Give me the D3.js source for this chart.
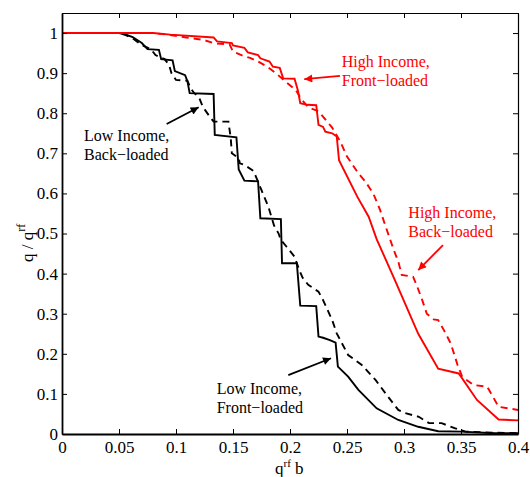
<!DOCTYPE html>
<html>
<head>
<meta charset="utf-8">
<script src="https://cdn.jsdelivr.net/npm/d3@7"></script>
<style>
  html, body { margin: 0; padding: 0; background: #fff; }
  svg { display: block; }
  text { font-family: "Liberation Serif", "Times New Roman", serif; }
</style>
</head>
<body>
<svg id="chart" width="530" height="477"></svg>
<script>
// ---------------- data ----------------
const xTicks = [0, 0.05, 0.1, 0.15, 0.2, 0.25, 0.3, 0.35, 0.4];
const xTickLabels = ["0", "0.05", "0.1", "0.15", "0.2", "0.25", "0.3", "0.35", "0.4"];
const yTicks = [0, 0.1, 0.2, 0.3, 0.4, 0.5, 0.6, 0.7, 0.8, 0.9, 1];
const yTickLabels = ["0", "0.1", "0.2", "0.3", "0.4", "0.5", "0.6", "0.7", "0.8", "0.9", "1"];

// Low Income, Front-loaded (black solid)
const lowFront = [
  [0, 1], [0.05, 1], [0.055, 0.997], [0.062, 0.99], [0.07, 0.975], [0.075, 0.96],
  [0.085, 0.958], [0.087, 0.935], [0.097, 0.932], [0.099, 0.905], [0.108, 0.895],
  [0.11, 0.88], [0.112, 0.85], [0.133, 0.848], [0.134, 0.746], [0.153, 0.74],
  [0.155, 0.66], [0.16, 0.632], [0.172, 0.63], [0.174, 0.538], [0.192, 0.536],
  [0.193, 0.426], [0.206, 0.426], [0.209, 0.32], [0.223, 0.319], [0.225, 0.243],
  [0.229, 0.24], [0.235, 0.234], [0.24, 0.228], [0.242, 0.168], [0.251, 0.143],
  [0.26, 0.11], [0.276, 0.064], [0.295, 0.035], [0.3125, 0.018], [0.33, 0.007],
  [0.35, 0.006], [0.38, 0.002], [0.4, 0.002]
];

// Low Income, Back-loaded (black dashed)
const lowBack = [
  [0, 1], [0.05, 1], [0.056, 0.995], [0.062, 0.987], [0.07, 0.97], [0.078, 0.96],
  [0.082, 0.945], [0.09, 0.935], [0.094, 0.92], [0.096, 0.9], [0.1, 0.883],
  [0.11, 0.881], [0.113, 0.862], [0.116, 0.85], [0.12, 0.841], [0.123, 0.82],
  [0.125, 0.81], [0.13, 0.79], [0.133, 0.779], [0.146, 0.779], [0.148, 0.738],
  [0.149, 0.7], [0.155, 0.688], [0.156, 0.675], [0.16, 0.671], [0.168, 0.656],
  [0.175, 0.608], [0.181, 0.567], [0.186, 0.52], [0.19, 0.5], [0.192, 0.484],
  [0.197, 0.467], [0.204, 0.442], [0.208, 0.41], [0.211, 0.39], [0.216, 0.372],
  [0.225, 0.355], [0.229, 0.334], [0.237, 0.284], [0.241, 0.251], [0.251, 0.197],
  [0.263, 0.172], [0.275, 0.135], [0.286, 0.093], [0.295, 0.06], [0.301, 0.052],
  [0.313, 0.043], [0.322, 0.027], [0.333, 0.027], [0.345, 0.014], [0.354, 0.006],
  [0.382, 0.003], [0.4, 0.002]
];

// High Income, Front-loaded (red solid)
const highFront = [
  [0, 1], [0.08, 1], [0.095, 0.996], [0.133, 0.989], [0.136, 0.979], [0.149, 0.975],
  [0.15, 0.969], [0.16, 0.963], [0.163, 0.952], [0.172, 0.945], [0.174, 0.937],
  [0.182, 0.929], [0.185, 0.916], [0.191, 0.913], [0.194, 0.887], [0.204, 0.886],
  [0.207, 0.856], [0.209, 0.825], [0.215, 0.821], [0.223, 0.82], [0.225, 0.771],
  [0.229, 0.766], [0.231, 0.754], [0.237, 0.75], [0.241, 0.742], [0.243, 0.683],
  [0.259, 0.592], [0.269, 0.542], [0.276, 0.486], [0.292, 0.384], [0.3125, 0.25],
  [0.33, 0.163], [0.348, 0.151], [0.364, 0.085], [0.383, 0.036], [0.4, 0.034]
];

// High Income, Back-loaded (red dashed)
const highBack = [
  [0, 1], [0.08, 1], [0.095, 0.995], [0.109, 0.989], [0.124, 0.983], [0.134, 0.974],
  [0.147, 0.972], [0.15, 0.954], [0.16, 0.942], [0.165, 0.938], [0.172, 0.929],
  [0.18, 0.916], [0.188, 0.899], [0.196, 0.879], [0.205, 0.858], [0.21, 0.835],
  [0.216, 0.815], [0.225, 0.805], [0.237, 0.764], [0.244, 0.73], [0.25, 0.692],
  [0.26, 0.65], [0.266, 0.63], [0.273, 0.6], [0.279, 0.559], [0.283, 0.525],
  [0.288, 0.484], [0.291, 0.459], [0.295, 0.43], [0.298, 0.397], [0.308, 0.392],
  [0.311, 0.372], [0.316, 0.334], [0.32, 0.3], [0.326, 0.286], [0.33, 0.284],
  [0.335, 0.259], [0.341, 0.226], [0.347, 0.172], [0.351, 0.143], [0.361, 0.122],
  [0.373, 0.118], [0.383, 0.068], [0.4, 0.06]
];

// annotation text (two lines each) and anchors in data units
const annoLines = [
  ["Low Income,", "Back\u2212loaded"],
  ["Low Income,", "Front\u2212loaded"],
  ["High Income,", "Front\u2212loaded"],
  ["High Income,", "Back\u2212loaded"]
];
const annoTextPos = [[0.0193, 0.731], [0.1357, 0.0998], [0.2454, 0.916], [0.3038, 0.538]];
const annoArrowFrom = [[0.0918, 0.773], [0.1985, 0.147], [0.2439, 0.893], [0.3342, 0.471]];
const annoArrowTo = [[0.1199, 0.815], [0.236, 0.189], [0.2125, 0.885], [0.3125, 0.409]];
const annoColors = ["#000", "#000", "#ff0000", "#ff0000"];

// ---------------- layout ----------------
const mLeft = 62, mRight = 518, mTop = 13, mBottom = 434;
const svg = d3.select("#chart");
const x = d3.scaleLinear().domain([0, 0.4]).range([mLeft, mRight]);
const y = d3.scaleLinear().domain([0, 1.05]).range([mBottom, mTop]);
const font = "'Liberation Serif', 'Times New Roman', serif";

// lines
const line = d3.line().x(d => x(d[0])).y(d => y(d[1]));
const series = [
  { data: lowFront, color: "#000", dash: null },
  { data: lowBack, color: "#000", dash: "7,5" },
  { data: highFront, color: "#ff0000", dash: null },
  { data: highBack, color: "#ff0000", dash: "7,5" }
];
svg.append("g").selectAll("path").data(series).join("path")
  .attr("d", d => line(d.data))
  .attr("fill", "none")
  .attr("stroke", d => d.color)
  .attr("stroke-width", 1.9)
  .attr("stroke-dasharray", d => d.dash)
  .attr("stroke-linejoin", "miter");

// axes (ticks inward, box)
const fmtX = (d, i) => xTickLabels[i];
const fmtY = (d, i) => yTickLabels[i];
const gB = svg.append("g").attr("transform", `translate(0,${mBottom})`)
  .call(d3.axisBottom(x).tickValues(xTicks).tickFormat(fmtX).tickSizeInner(-5).tickSizeOuter(0).tickPadding(7));
const gL = svg.append("g").attr("transform", `translate(${mLeft},0)`)
  .call(d3.axisLeft(y).tickValues(yTicks).tickFormat(fmtY).tickSizeInner(-5).tickSizeOuter(0).tickPadding(4));
const gT = svg.append("g").attr("transform", `translate(0,${mTop})`)
  .call(d3.axisTop(x).tickValues(xTicks).tickFormat("").tickSizeInner(-5).tickSizeOuter(0));
const gR = svg.append("g").attr("transform", `translate(${mRight},0)`)
  .call(d3.axisRight(y).tickValues(yTicks).tickFormat("").tickSizeInner(-5).tickSizeOuter(0));

[gB, gL, gT, gR].forEach(g => {
  g.selectAll("text").attr("font-family", font).attr("font-size", 17).attr("fill", "#000");
  g.selectAll("line").attr("stroke", "#000").attr("stroke-width", 1);
  g.select(".domain").attr("stroke", "#000");
});
gB.select(".domain").attr("stroke-width", 1.8);
gL.select(".domain").attr("stroke-width", 1.8);
gT.select(".domain").attr("stroke-width", 1.2);
gR.select(".domain").attr("stroke-width", 1.2);

// axis labels
const xl = svg.append("text")
  .attr("x", 275).attr("y", 474)
  .attr("font-family", font).attr("font-size", 17).attr("fill", "#000");
xl.append("tspan").text("q");
xl.append("tspan").attr("font-size", 11).attr("dy", -7).text("rf");
xl.append("tspan").attr("dy", 7).text(" b");

const yl = svg.append("text")
  .attr("transform", "translate(33,262) rotate(-90)")
  .attr("font-family", font).attr("font-size", 17).attr("fill", "#000");
yl.append("tspan").text("q / q");
yl.append("tspan").attr("font-size", 12).attr("dy", -8).text("rf");

// annotations
const defs = svg.append("defs");
annoColors.forEach((c, i) => {
  defs.append("marker").attr("id", "ah" + i)
    .attr("viewBox", "0 0 10 10").attr("refX", 10).attr("refY", 5)
    .attr("markerWidth", 10).attr("markerHeight", 8).attr("markerUnits", "userSpaceOnUse")
    .attr("orient", "auto")
    .append("path").attr("d", "M0,0 L10,5 L0,10 z").attr("fill", c);
});
annoLines.forEach((lines, i) => {
  const t = svg.append("text")
    .attr("font-family", font).attr("font-size", 16).attr("fill", annoColors[i]);
  lines.forEach((s, j) => {
    t.append("tspan").attr("x", x(annoTextPos[i][0]))
      .attr("y", y(annoTextPos[i][1]) + j * 19).text(s);
  });
  svg.append("line")
    .attr("x1", x(annoArrowFrom[i][0])).attr("y1", y(annoArrowFrom[i][1]))
    .attr("x2", x(annoArrowTo[i][0])).attr("y2", y(annoArrowTo[i][1]))
    .attr("stroke", annoColors[i]).attr("stroke-width", 1.8)
    .attr("marker-end", `url(#ah${i})`);
});
</script>
</body>
</html>
